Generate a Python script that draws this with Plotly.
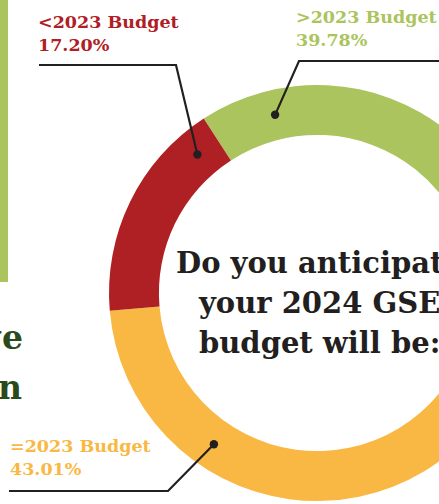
import math
import plotly.graph_objects as go

# Survey answers, clockwise from the top-left of the ring
labels = [">2023 Budget", "=2023 Budget", "<2023 Budget"]
shares = [39.78, 43.01, 17.20]
colors = ["#ABC45D", "#F9B843", "#AF2024"]

question = ["Do you anticipate", "your 2024 GSE", "budget will be:"]

# Canvas (wider than the visible window, so the ring runs off the right edge)
W, H = 640, 504
CX, CY, R = 317, 293, 208          # ring centre / outer radius in pixels
HOLE = 0.76
ROTATION = -33                      # first slice starts 33 deg left of 12 o'clock


def px(x, y):
    return x / W, 1 - y / H


x0, y1 = px(CX - R, CY - R)
x1, y0 = px(CX + R, CY + R)

fig = go.Figure(
    go.Pie(
        labels=labels,
        values=shares,
        hole=HOLE,
        sort=False,
        direction="clockwise",
        rotation=ROTATION,
        marker=dict(colors=colors, line=dict(width=0)),
        textinfo="none",
        hoverinfo="label+percent",
        showlegend=False,
        domain=dict(x=[x0, x1], y=[y0, y1]),
    )
)

# Where along each slice its leader dot sits (0 = slice start, 1 = slice end)
dot_frac = [0.138, 0.672, 0.874]
total = sum(shares)
mid_r = R * (1 + HOLE) / 2
dots = []
start = ROTATION
for v, f in zip(shares, dot_frac):
    span = 360 * v / total
    ang = math.radians(start + span * f)
    dots.append((CX + mid_r * math.sin(ang), CY - mid_r * math.cos(ang)))
    start += span

# Leader elbows: (line start, elbow) for each slice
leaders = [((W, 61), (299, 61)), ((9, 491), (168, 491)), ((39, 65), (176, 65))]
label_pos = [(294, 5), (8, 434), (36, 10)]

shapes = []
ink = "#231F20"
for (p0, p1), (dx, dy) in zip(leaders, dots):
    path = "M {} {} L {} {} L {} {}".format(*px(*p0), *px(*p1), *px(dx, dy))
    shapes.append(dict(type="path", path=path, xref="paper", yref="paper",
                       line=dict(color=ink, width=2.2)))
    r = 4.2
    a0 = px(dx - r, dy + r)
    a1 = px(dx + r, dy - r)
    shapes.append(dict(type="circle", xref="paper", yref="paper",
                       x0=a0[0], y0=a0[1], x1=a1[0], y1=a1[1],
                       fillcolor=ink, line=dict(width=0)))

# green sidebar on the left edge
b0 = px(0, 282)
b1 = px(8, 0)
shapes.append(dict(type="rect", xref="paper", yref="paper", x0=b0[0], y0=b0[1],
                   x1=b1[0], y1=b1[1], fillcolor=colors[0], line=dict(width=0),
                   layer="below"))

SERIF = "DejaVu Serif, serif"
annotations = []
for lab, v, col, (lx, ly) in zip(labels, shares, colors, label_pos):
    ax, ay = px(lx, ly)
    annotations.append(dict(
        x=ax, y=ay, xref="paper", yref="paper", xanchor="left", yanchor="top",
        align="left", showarrow=False,
        text="<b>{}<br>{:.2f}%</b>".format(lab, v),
        font=dict(family=SERIF, size=17.5, color=col),
    ))

# centre question, one line at a time on a 40px pitch
for i, line in enumerate(question):
    qx, qy = px(CX + 2, 263 + 40 * i)
    annotations.append(dict(
        x=qx, y=qy, xref="paper", yref="paper", xanchor="center",
        yanchor="middle", showarrow=False,
        text="<b>" + line + "</b>",
        font=dict(family=SERIF, size=29, color=ink),
    ))

# tail ends of a heading that continues off the left edge
for word, (tx, ty) in [("ge", (25, 316)), ("n", (24, 366))]:
    ax, ay = px(tx, ty)
    annotations.append(dict(
        x=ax, y=ay, xref="paper", yref="paper", xanchor="right", yanchor="top",
        showarrow=False, text="<b>{}</b>".format(word),
        font=dict(family=SERIF, size=33, color="#2B4A1C"),
    ))

fig.update_layout(
    width=W, height=H,
    margin=dict(l=0, r=0, t=0, b=0),
    paper_bgcolor="white", plot_bgcolor="white",
    shapes=shapes, annotations=annotations,
)

fig.write_html(
    "out.html",
    config={"displayModeBar": False},
    post_script="document.documentElement.style.overflow='hidden';"
                "document.body.style.overflow='hidden';"
                "document.body.style.margin='0';",
)
